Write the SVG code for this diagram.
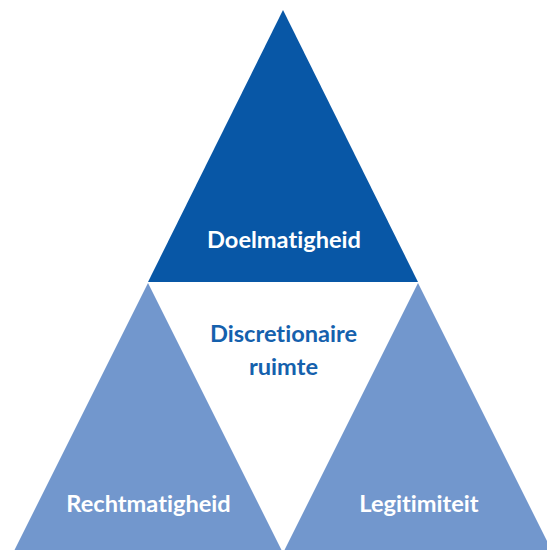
<svg xmlns="http://www.w3.org/2000/svg" width="547" height="550" viewBox="0 0 547 550">
<style>
.dark{fill:#0857a6}
.light{fill:#7297cd}
.lbl{font-family:Lato,"Open Sans","Liberation Sans",sans-serif;font-weight:bold;font-size:23.6px;text-anchor:middle;font-variant-ligatures:none;font-feature-settings:"liga" 0,"dlig" 0}
.w{fill:#ffffff}
.b{fill:#1561ad}
</style>
<rect width="547" height="550" fill="#ffffff"/>
<g id="doelmatigheid">
<polygon class="dark" points="283,10 148,282 418,282"/>
<text class="lbl w" x="284" y="248">Doelmatigheid</text>
</g>
<g id="discretionaire-ruimte">
<text class="lbl b" x="283.5" y="342">Discretionaire</text>
<text class="lbl b" x="283.5" y="375">ruimte</text>
</g>
<g id="rechtmatigheid">
<polygon class="light" points="148,283 14,551 282,551"/>
<text class="lbl w" x="148.5" y="512">Rechtmatigheid</text>
</g>
<g id="legitimiteit">
<polygon class="light" points="418,283 284,551 552,551"/>
<text class="lbl w" x="419" y="512">Legitimiteit</text>
</g>
<g id="connectors"></g>
</svg>
